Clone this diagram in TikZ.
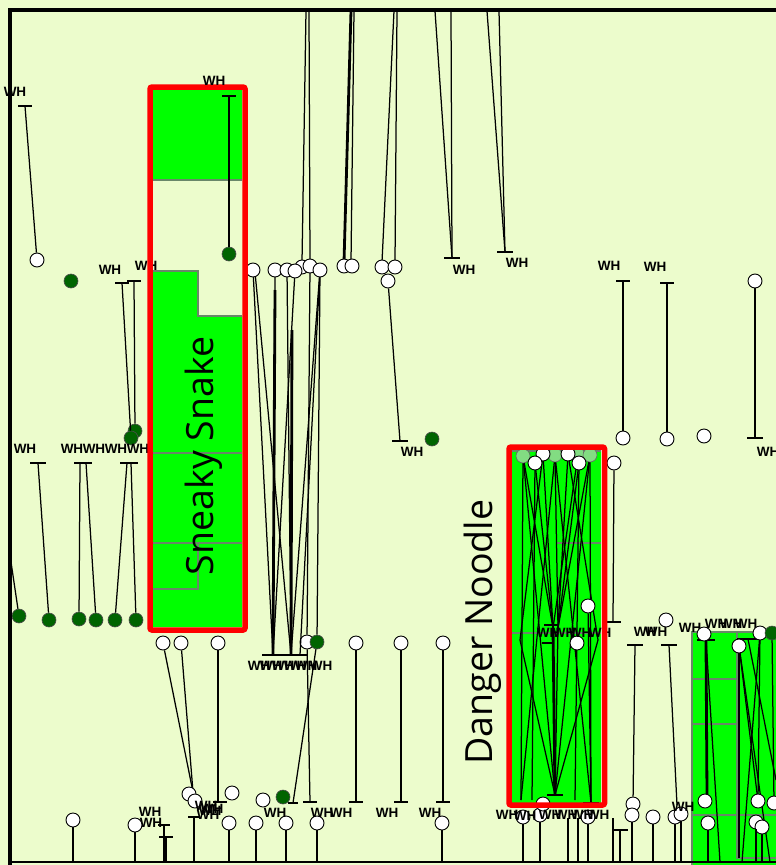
\documentclass[tikz,border=0pt]{standalone}
\usepackage{fontspec}
\setmainfont{Liberation Sans}
\newfontfamily\bigsans{Open Sans}
\definecolor{bg}{RGB}{236,252,204}
\definecolor{limeg}{RGB}{0,255,0}
\definecolor{dkg}{RGB}{0,100,0}
\definecolor{lgr}{RGB}{130,220,130}
\definecolor{cellg}{RGB}{105,135,105}
\tikzset{
  wc/.style={circle,draw=black,fill=white,line width=0.9pt,minimum size=14pt,inner sep=0pt},
  gc/.style={circle,draw=black!70,fill=dkg,line width=0.6pt,minimum size=14pt,inner sep=0pt},
  lgc/.style={circle,draw=black!60,fill=lgr,line width=0.6pt,minimum size=14pt,inner sep=0pt},
  lbl/.style={font=\fontsize{13.5}{13.5}\selectfont\bfseries,inner sep=0pt,text=black},
  wire/.style={line width=1.25pt,draw=black},
  fat/.style={line width=2.8pt,draw=black},
  tb/.style={line width=1.3pt,draw=black},
  cell/.style={draw=cellg,line width=1.6pt},
  redbox/.style={draw=red,line width=5.5pt,rounded corners=2pt},
  big/.style={rotate=90,anchor=base,inner sep=0pt,font=\bigsans\fontsize{37.5}{37.5}\selectfont}
}
\newcommand\tbar[4]{\coordinate (#1) at (#2,#3); \draw[tb] (#2-#4,#3) -- (#2+#4,#3);}
\begin{document}
\begin{tikzpicture}[x=1pt,y=-1pt]
\useasboundingbox (0,0) rectangle (776,865);
\fill[bg] (0,0) rectangle (776,865);
\coordinate (bot) at (0,862);
% ---------- green areas ----------
\fill[limeg] (153,90) rectangle (242,180);
\draw[cell] (153,180) -- (242,180);
\fill[limeg] (153,271) -- (198,271) -- (198,316) -- (242,316) -- (242,627) -- (153,627) -- cycle;
\draw[cell] (153,271) -- (198,271) -- (198,316) -- (242,316);
\draw[cell] (153,453) -- (242,453);
\draw[cell] (153,543) -- (242,543);
\draw[cell] (198,543) -- (198,589) -- (153,589);
\fill[limeg] (512,450) rectangle (601,803);
\draw[cell] (512,451) -- (601,451);
\draw[cell] (557,543) -- (601,543);
\draw[cell] (512,633) -- (601,633);
\fill[limeg] (692,632) rectangle (776,865);
\draw[cell] (692,865) -- (692,632) -- (776,632);
\draw[cell] (737,632) -- (737,858) -- (776,858);
\draw[cell] (692,679) -- (737,679);
\draw[cell] (692,724) -- (737,724);
\draw[cell] (692,815) -- (776,815);
% ---------- top-left ----------
\node[lbl] (la1) at (15,92) {WH};
\tbar{ta1}{25}{106}{7}
\node[wc] (ca1) at (37,260) {};
\draw[wire] (ta1) -- (ca1);
\node[gc] (ga1) at (71,281) {};
\node[lbl] (la2) at (110,270) {WH};
\node[lbl] (la3) at (146,266) {WH};
\tbar{ta2}{122}{283}{7}
\tbar{ta3}{134}{281}{7}
\node[gc] (ga2) at (135,431) {};
\node[gc] (ga3) at (131,438) {};
\draw[wire] (ta2) -- (ga3);
\draw[wire] (ta3) -- (ga2);
\tbar{ta4}{229}{96}{7}
\node[gc] (ga4) at (229,254) {};
\draw[wire] (ta4) -- (ga4);
% ---------- top bundles ----------
\coordinate (t1) at (306,11); \coordinate (t2) at (309,11);
\coordinate (t3) at (351,11); \coordinate (t4) at (354,11);
\coordinate (t5) at (394,11); \coordinate (t6) at (397,11);
\coordinate (t7) at (435,11); \coordinate (t8) at (451,11);
\coordinate (t9) at (487,11); \coordinate (t10) at (499,11);
\tbar{tc}{285}{655}{23}
\coordinate (tc1) at (273,655); \coordinate (tc2) at (291,655); \coordinate (tc3) at (300,655);
\node[wc] (wb1) at (307,642) {};
\node[gc] (gb1) at (317,642) {};
\draw[wire] (t1) -- (302,262);
\draw[wire] (t2) -- (310,262);
\draw[fat] (t3) -- (344,262);
\draw[wire] (t4) -- (351,262);
\draw[wire] (t5) -- (382,262);
\draw[wire] (t6) -- (395,262);
\tbar{tb1}{452}{258}{8}
\draw[wire] (t7) -- (tb1);
\draw[wire] (t8) -- (tb1);
\node[lbl] (lb1) at (464,270) {WH};
\tbar{tb2}{505}{252}{8}
\draw[wire] (t9) -- (tb2);
\draw[wire] (t10) -- (tb2);
\node[lbl] (lb2) at (517,263) {WH};
% circle row
\draw[wire] (253,270) -- (tc1);
\draw[wire] (255,272) -- (tc2);
\draw[fat] (275,290) -- (tc1);
\draw[wire] (275,270) -- (tc1);
\draw[wire] (287,270) -- (tc2);
\draw[fat] (292,330) -- (tc2);
\draw[wire] (295,271) -- (tc1);
\draw[wire] (310,266) -- (wb1);
\draw[wire] (320,270) -- (gb1);
\draw[wire] (320,270) -- (tc3);
\draw[wire] (320,270) -- (tc2);
\node[wc] (r1) at (253,270) {};
\node[wc] (r5) at (302,267) {};
\node[wc] (r6) at (310,266) {};
\node[wc] (r2) at (275,270) {};
\node[wc] (r3) at (287,270) {};
\node[wc] (r4) at (295,271) {};
\node[wc] (r7) at (320,270) {};
\node[wc] (r8) at (344,266) {};
\node[wc] (r9) at (352,266) {};
\node[wc] (r10) at (382,267) {};
\node[wc] (r11) at (395,267) {};
\node[wc] (r12) at (388,281) {};
\node[lbl] (lc1) at (259,666) {WH};
\node[lbl] (lc2) at (271,666) {WH};
\node[lbl] (lc3) at (283,666) {WH};
\node[lbl] (lc4) at (295,666) {WH};
\node[lbl] (lc5) at (306,666) {WH};
\node[lbl] (lc6) at (321,666) {WH};
% ---------- right upper ----------
\node[lbl] (ld1) at (609,266) {WH};
\tbar{td1}{623}{281}{7}
\node[wc] (cd1) at (623,438) {};
\draw[wire] (td1) -- (cd1);
\node[lbl] (ld2) at (655,267) {WH};
\tbar{td2}{667}{283}{7}
\node[wc] (cd2) at (667,439) {};
\draw[wire] (td2) -- (cd2);
\node[wc] (cd3) at (704,436) {};
\node[wc] (cd4) at (755,281) {};
\tbar{td3}{755}{438}{8}
\draw[wire] (cd4) -- (td3);
\node[lbl] (ld3) at (768,452) {WH};
% ---------- middle ----------
\tbar{te1}{400}{441}{8}
\draw[wire] (r12) -- (te1);
\node[lbl] (le1) at (412,452) {WH};
\node[gc] (ge1) at (432,439) {};
% ---------- left middle ----------
\node[lbl] (lf0) at (25,449) {WH};
\node[lbl] (lf1) at (72,449) {WH};
\node[lbl] (lf2) at (94,449) {WH};
\node[lbl] (lf3) at (116,449) {WH};
\node[lbl] (lf4) at (138,449) {WH};
\tbar{tf1}{38}{463}{8}
\tbar{tf2}{83}{463}{9}
\coordinate (tf2a) at (80,463); \coordinate (tf2b) at (86,463);
\tbar{tf3}{129}{463}{9}
\coordinate (tf3a) at (127,463); \coordinate (tf3b) at (131,463);
\node[gc] (gf0) at (19,616) {};
\node[gc] (gf1) at (49,620) {};
\node[gc] (gf2) at (79,619) {};
\node[gc] (gf3) at (96,620) {};
\node[gc] (gf4) at (115,620) {};
\node[gc] (gf5) at (136,620) {};
\coordinate (lf) at (11,562);
\draw[wire] (lf) -- (gf0);
\draw[wire] (tf1) -- (gf1);
\draw[wire] (tf2a) -- (gf2);
\draw[wire] (tf2b) -- (gf3);
\draw[wire] (tf3a) -- (gf4);
\draw[wire] (tf3b) -- (gf5);
% ---------- bottom left ----------
\node[wc] (wg1) at (163,643) {};
\node[wc] (wg2) at (181,643) {};
\node[wc] (wg3) at (218,643) {};
\coordinate (cg) at (193,792);
\draw[wire] (wg1) -- (cg);
\draw[wire] (wg2) -- (cg);
\tbar{tg1}{220}{802}{7}
\draw[wire] (wg3) -- (218,802);
\tbar{tg4}{194}{817}{6}
\draw[wire] (tg4) -- (tg4 |- bot);
\node[wc] (wg4) at (189,794) {};
\node[wc] (wg5) at (195,801) {};
\node[wc] (wg6) at (232,793) {};
\node[lbl] (lg1) at (206,806) {WH};
\node[lbl] (lg2) at (210,811) {WH};
\node[lbl] (lg3) at (208,815) {WH};
\node[lbl] (lg4) at (212,809) {WH};
\node[lbl] (lg5) at (150,812) {WH};
\node[lbl] (lg6) at (151,823) {WH};
\tbar{tg2}{164}{825}{6}
\tbar{tg3}{166}{837}{7}
\draw[wire] (tg2) -- (tg2 |- bot);
\draw[wire] (tg3) -- (tg3 |- bot);
\node[wc] (wg7) at (73,820) {};
\node[wc] (wg8) at (135,825) {};
\draw[wire] (wg7) -- (wg7 |- bot);
\draw[wire] (wg8) -- (wg8 |- bot);
\node[wc] (wg9) at (229,823) {};
\node[wc] (wg10) at (256,823) {};
\node[wc] (wg11) at (286,823) {};
\node[wc] (wg12) at (317,823) {};
\node[wc] (wg13) at (442,823) {};
\draw[wire] (wg9) -- (wg9 |- bot);
\draw[wire] (wg10) -- (wg10 |- bot);
\draw[wire] (wg11) -- (wg11 |- bot);
\draw[wire] (wg12) -- (wg12 |- bot);
\draw[wire] (wg13) -- (wg13 |- bot);
\node[wc] (wg14) at (263,800) {};
\tbar{th0}{293}{803}{5}
\draw[wire] (gb1) -- (th0);
\node[gc] (gb2) at (283,797) {};
\tbar{th1}{310}{802}{7}
\tbar{th2}{356}{802}{7}
\tbar{th3}{401}{802}{7}
\tbar{th4}{443}{802}{7}
\node[wc] (wh2) at (356,643) {};
\node[wc] (wh3) at (401,643) {};
\node[wc] (wh4) at (443,643) {};
\draw[wire] (wb1) -- (th1);
\draw[wire] (wh2) -- (th2);
\draw[wire] (wh3) -- (th3);
\draw[wire] (wh4) -- (th4);
\node[lbl] (lh1) at (275,813) {WH};
\node[lbl] (lh2) at (322,813) {WH};
\node[lbl] (lh3) at (341,813) {WH};
\node[lbl] (lh4) at (387,813) {WH};
\node[lbl] (lh5) at (430,813) {WH};
% ---------- Danger Noodle interior ----------
\coordinate (dk1) at (553,628);
\coordinate (dk2) at (558,628);
\coordinate (db1) at (521,800);
\coordinate (db2) at (532,800);
\coordinate (db4) at (575,800);
\coordinate (dm1) at (520,640);
\coordinate (dm2) at (598,640);
\tbar{db3}{555}{795}{8}
\tbar{dt3}{591}{803}{8}
\coordinate (dn1c) at (523,456); \coordinate (dn5c) at (590,455);
\coordinate (dn7c) at (535,463); \coordinate (dn8c) at (579,463);
\coordinate (dn2c) at (543,454); \coordinate (dn6c) at (568,454);
\coordinate (dn3c) at (555,455); \coordinate (dn4c) at (578,455);
\draw[wire] (dn1c) -- (dk1);
\draw[wire] (dn7c) -- (dk1);
\draw[wire] (dn2c) -- (dk1);
\draw[wire] (dn3c) -- (dk2);
\draw[wire] (dn6c) -- (dk2);
\draw[wire] (dn8c) -- (dk2);
\draw[wire] (dn5c) -- (dk2);
\draw[wire] (dn4c) -- (dk1);
\draw[wire] (dn1c) -- (db1);
\draw[wire] (dn5c) -- (dt3);
\draw[wire] (dn7c) -- (db2);
\draw[wire] (dn8c) -- (db4);
\draw[wire] (dn2c) -- (dm1);
\draw[wire] (dn6c) -- (dm2);
\draw[wire] (dm1) -- (db3);
\draw[wire] (dm2) -- (db3);
\draw[wire] (dn3c) -- (db1);
\draw[wire] (dn3c) -- (dt3);
\draw[wire] (dn1c) -- (db3);
\draw[wire] (dn5c) -- (db3);
\draw[fat] (dk1) -- (db3);
\draw[wire] (dk2) -- (db3);
\node[lgc] (dn1) at (dn1c) {};
\node[lgc] (dn3) at (dn3c) {};
\node[lgc] (dn4) at (dn4c) {};
\node[lgc] (dn5) at (dn5c) {};
\node[wc] (dn2) at (dn2c) {};
\node[wc] (dn6) at (dn6c) {};
\node[wc] (dn7) at (dn7c) {};
\node[wc] (dn8) at (dn8c) {};
\node[wc] (dn9) at (588,606) {};
\draw[wire] (dn9) -- (dt3);
\node[wc] (dn10) at (577,643) {};
\tbar{dt1}{551}{625}{7}
\tbar{dt2}{548}{643}{6}
\node[lbl] (ldn1) at (548,633) {WH};
\node[lbl] (ldn2) at (564,633) {WH};
\node[lbl] (ldn3) at (580,633) {WH};
\node[lbl] (ldn4) at (600,633) {WH};
\node[wc] (dn11) at (614,463) {};
\tbar{dt5}{613}{622}{8}
\draw[wire] (dn11) -- (dt5);
% bottom of DN
\node[wc] (dq1) at (523,817) {};
\node[wc] (dq2) at (540,815) {};
\node[wc] (dq3) at (543,804) {};
\node[wc] (dq4) at (588,817) {};
\coordinate (dq5) at (568,818);
\coordinate (dq6) at (578,818);
\draw[wire] (dq1) -- (dq1 |- bot);
\draw[wire] (dq2) -- (dq2 |- bot);
\draw[wire] (dq4) -- (dq4 |- bot);
\draw[wire] (dq5) -- (dq5 |- bot);
\draw[wire] (dq6) -- (dq6 |- bot);
\node[lbl] (lq1) at (507,815) {WH};
\node[lbl] (lq2) at (525,816) {WH};
\node[lbl] (lq3) at (550,815) {WH};
\node[lbl] (lq4) at (566,815) {WH};
\node[lbl] (lq5) at (582,815) {WH};
\node[lbl] (lq6) at (598,815) {WH};
% ---------- right of DN ----------
\node[lbl] (li1) at (645,632) {WH};
\node[lbl] (li2) at (656,632) {WH};
\node[wc] (di0) at (666,620) {};
\tbar{di1}{635}{645}{8}
\tbar{di2}{669}{645}{8}
\coordinate (di8) at (677,805);
\node[wc] (di3) at (633,804) {};
\node[wc] (di4) at (632,815) {};
\node[wc] (di5) at (653,817) {};
\node[wc] (di6) at (675,817) {};
\node[wc] (di7) at (681,814) {};
\draw[wire] (di1) -- (di3);
\draw[wire] (di2) -- (di8);
\node[lbl] (li3) at (683,807) {WH};
\tbar{di9}{620}{830}{8}
\draw[wire] (di9) -- (di9 |- bot);
\coordinate (di10) at (613,818);
\draw[wire] (di10) -- (di10 |- bot);
\draw[wire] (di4) -- (di4 |- bot);
\draw[wire] (di5) -- (di5 |- bot);
\draw[wire] (di6) -- (di6 |- bot);
\draw[wire] (di7) -- (di7 |- bot);
% ---------- right green block ----------
\node[lbl] (lj1) at (690,628) {WH};
\node[lbl] (lj2) at (716,624) {WH};
\node[lbl] (lj3) at (731,624) {WH};
\node[lbl] (lj4) at (746,624) {WH};
\tbar{ejt}{706}{640}{9}
\coordinate (ejb) at (748,639);
\draw[tb] (737,639) -- (760,639);
\coordinate (ejz1) at (720,862);
\coordinate (ejz2) at (776,780);
\coordinate (ejz3) at (742,862);
\coordinate (ejz4) at (770,862);
\draw[fat] (ejt) -- (707,795);
\draw[wire] (ejt) -- (ejz1);
\draw[wire] (739,646) -- (758,801);
\draw[wire] (739,646) -- (ejz4);
\draw[wire] (760,633) -- (ejz3);
\draw[wire] (760,633) -- (758,801);
\draw[wire] (772,633) -- (774,803);
\draw[wire] (ejb) -- (ejz2);
\draw[wire] (739,646) -- (739,858);
\node[wc] (ej1) at (704,634) {};
\node[wc] (ej2) at (739,646) {};
\node[wc] (ej3) at (760,633) {};
\node[gc] (ej4) at (772,633) {};
\node[wc] (ej5) at (705,801) {};
\node[wc] (ej6) at (758,801) {};
\node[wc] (ej7) at (774,803) {};
\node[wc] (ej8) at (708,823) {};
\node[wc] (ej9) at (756,822) {};
\node[wc] (ej10) at (762,827) {};
\draw[wire] (ej8) -- (ej8 |- bot);
\draw[wire] (ej9) -- (ej9 |- bot);
\draw[wire] (ej10) -- (ej10 |- bot);
% ---------- red boxes and titles ----------
\draw[redbox] (150,87) rectangle (245,630);
\draw[redbox] (509,447) rectangle (604.5,805);
\node[big] (sneaky) at (213,456) {Sneaky Snake};
\node[big] (danger) at (492,632) {Danger Noodle};
\node[lbl] (la4) at (214,81) {WH};
% ---------- frame ----------
\draw[line width=4pt] (9.5,870) -- (9.5,9.5) -- (790,9.5);
\draw[line width=2.5pt] (8,862) -- (790,862);
\end{tikzpicture}
\end{document}
